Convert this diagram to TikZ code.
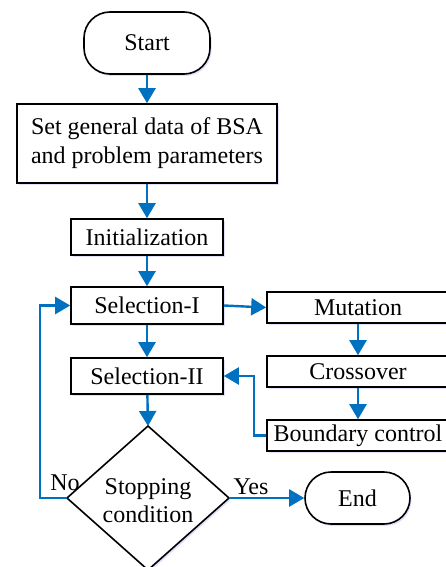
\documentclass[tikz,border=0pt]{standalone}
\usepackage{fontspec}
\setmainfont{Liberation Serif}
\usetikzlibrary{arrows.meta,shapes.geometric,shadows}
\begin{document}
\begin{tikzpicture}[x=1pt,y=-1pt,
  every node/.style={font=\fontsize{24}{29}\selectfont},
  shad/.style={drop shadow={shadow xshift=1.5pt,shadow yshift=-2pt,fill=blue!25!white,opacity=0.5}},
  box/.style={draw=black,line width=1.6pt,fill=white,inner sep=0pt,shad,align=center},
  term/.style={box,rounded corners=26pt},
  dec/.style={draw=black,line width=1.6pt,fill=white,shad},
  flow/.style={draw={rgb,255:red,0;green,112;blue,192},line width=2.4pt,
    -{Triangle[length=15pt,width=17pt]}},
  lbl/.style={inner sep=0pt}]
\useasboundingbox (0,0) rectangle (446,567);
\begin{scope}
\clip (0,0) rectangle (446,567);
\node[term,minimum width=126pt,minimum height=62pt] (start) at (147,43) {Start};
\node[box,minimum width=260pt,minimum height=79pt] (set) at (147,143.5) {Set general data of BSA\\and problem parameters};
\node[box,minimum width=152pt,minimum height=36pt] (init) at (147,237) {Initialization};
\node[box,minimum width=152pt,minimum height=37pt] (sel1) at (147,305.5) {Selection-I};
\node[box,minimum width=152pt,minimum height=36pt] (sel2) at (147,376) {Selection-II};
\path[dec] (148,426) coordinate (dtop) -- (229,498) coordinate (dright) -- (148,570) -- (67,498) coordinate (dleft) -- cycle;
\node[lbl,align=center,font=\fontsize{24}{28}\selectfont] (stop) at (148,501) {Stopping\\condition};
\node[box,minimum width=182pt,minimum height=31pt] (mut) at (358,307.5) {Mutation};
\node[box,minimum width=182pt,minimum height=31pt] (cro) at (358,371.5) {Crossover};
\node[box,minimum width=182pt,minimum height=31pt] (bnd) at (358,435.5) {Boundary control};
\node[term,minimum width=105pt,minimum height=52pt] (end) at (357.5,498) {End};
\coordinate (loopL) at (40,498);
\coordinate (loopB) at (254,435.5);
\draw[flow] (start) -- (set);
\draw[flow] (set) -- (init);
\draw[flow] (init) -- (sel1);
\draw[flow] (sel1) -- (sel2);
\draw[flow] (sel2) -- (dtop);
\draw[flow] (sel1.east) -- (mut.west);
\draw[flow] (mut) -- (cro);
\draw[flow] (cro) -- (bnd);
\draw[flow] (bnd.west) -- (loopB) |- (sel2.east);
\draw[flow] (dleft) -- (loopL) |- (sel1.west);
\draw[flow] (dright) -- (end.west);
\node[lbl] (no) at (65,483) {No};
\node[lbl] (yes) at (251,487) {Yes};
\end{scope}
\end{tikzpicture}
\end{document}
